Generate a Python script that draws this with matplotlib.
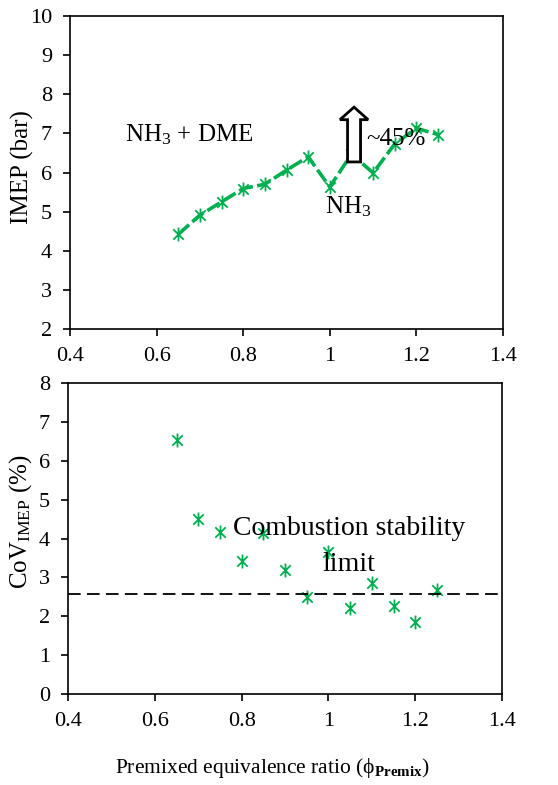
import matplotlib
matplotlib.use("Agg")
import matplotlib.pyplot as plt
from matplotlib.path import Path
from matplotlib.patches import FancyArrow

plt.rcParams['font.family'] = ['Liberation Serif', 'DejaVu Serif']
plt.rcParams['mathtext.fontset'] = 'custom'
plt.rcParams['mathtext.rm'] = 'Liberation Serif'
plt.rcParams['mathtext.it'] = 'Liberation Serif:italic'
plt.rcParams['mathtext.bf'] = 'Liberation Serif:bold'

# data
phi = [0.65, 0.70, 0.75, 0.80, 0.85, 0.90, 0.95, 1.00, 1.05, 1.10, 1.15, 1.20, 1.25]
imep = [4.42, 4.91, 5.25, 5.59, 5.70, 6.06, 6.40, 5.63, 6.47, 5.99, 6.73, 7.13, 6.97]
cov_imep = [6.54, 4.50, 4.17, 3.41, 4.13, 3.20, 2.49, 3.65, 2.21, 2.86, 2.27, 1.84, 2.68]
stability_limit = 2.57
x_ticks = [0.4, 0.6, 0.8, 1.0, 1.2, 1.4]
x_tick_labels = ['0.4', '0.6', '0.8', '1', '1.2', '1.4']

green = '#00B050'

# asterisk marker: vertical bar plus an X
star = Path([(0, -1), (0, 1), (-0.75, -0.75), (0.75, 0.75), (-0.75, 0.75), (0.75, -0.75)],
            [Path.MOVETO, Path.LINETO, Path.MOVETO, Path.LINETO, Path.MOVETO, Path.LINETO])

fig = plt.figure(figsize=(5.58, 7.85), dpi=100)
W, H = 558, 785
ax1 = fig.add_axes([70 / W, 1 - 329 / H, 433 / W, 313 / H])
ax2 = fig.add_axes([68 / W, 1 - 694 / H, 434 / W, 311 / H])

tick_fs = 16

# top: IMEP
ax1.plot(phi, imep, color=green, lw=2.6, dashes=(4, 1.2), marker=star,
         markersize=10, markeredgewidth=1.3, markeredgecolor=green)
ax1.set_xlim(0.4, 1.4)
ax1.set_ylim(2, 10)
ax1.set_xticks(x_ticks)
ax1.set_xticklabels(x_tick_labels)
ax1.set_yticks(range(2, 11))
ax1.set_ylabel('IMEP (bar)', fontsize=18)
ax1.yaxis.set_label_coords(-0.082, 0.518)
ax1.text(0.527, 6.96, r'NH$_3$ + DME', fontsize=18, va='center', ha='left')
ax1.text(0.989, 5.12, r'NH$_3$', fontsize=18, va='center', ha='left')
ax1.text(1.084, 6.85, '~45%', fontsize=18, va='center', ha='left')
arrow = FancyArrow(1.056, 6.27, 0, 1.40, width=0.03, head_width=0.065,
                   head_length=0.32, length_includes_head=True,
                   facecolor='white', edgecolor='black', lw=2, zorder=5)
ax1.add_patch(arrow)

# bottom: CoV IMEP
ax2.plot(phi, cov_imep, linestyle='none', marker=star, markersize=10,
         markeredgewidth=1.3, markeredgecolor=green, color=green)
ax2.axhline(stability_limit, color='black', lw=1.3, dashes=(7, 3.5))
ax2.set_xlim(0.4, 1.4)
ax2.set_ylim(0, 8)
ax2.set_xticks(x_ticks)
ax2.set_xticklabels(x_tick_labels)
ax2.set_yticks(range(0, 9))
ax2.set_ylabel(r'CoV$_{\mathrm{IMEP}}$ (%)', fontsize=18)
ax2.yaxis.set_label_coords(-0.078, 0.553)
ax2.set_xlabel(r'Premixed equivalence ratio ($\mathrm{\phi}_{\mathbf{Premix}}$)',
               fontsize=15.5)
ax2.xaxis.set_label_coords(0.472, -0.2)
ax2.text(1.047, 4.27, 'Combustion stability', fontsize=20, va='center', ha='center')
ax2.text(1.047, 3.32, 'limit', fontsize=20, va='center', ha='center')

for ax in (ax1, ax2):
    ax.tick_params(labelsize=tick_fs, direction='out', length=5, width=1.2, pad=8)
    for s in ax.spines.values():
        s.set_linewidth(1.2)

fig.savefig('out.png', dpi=100)
